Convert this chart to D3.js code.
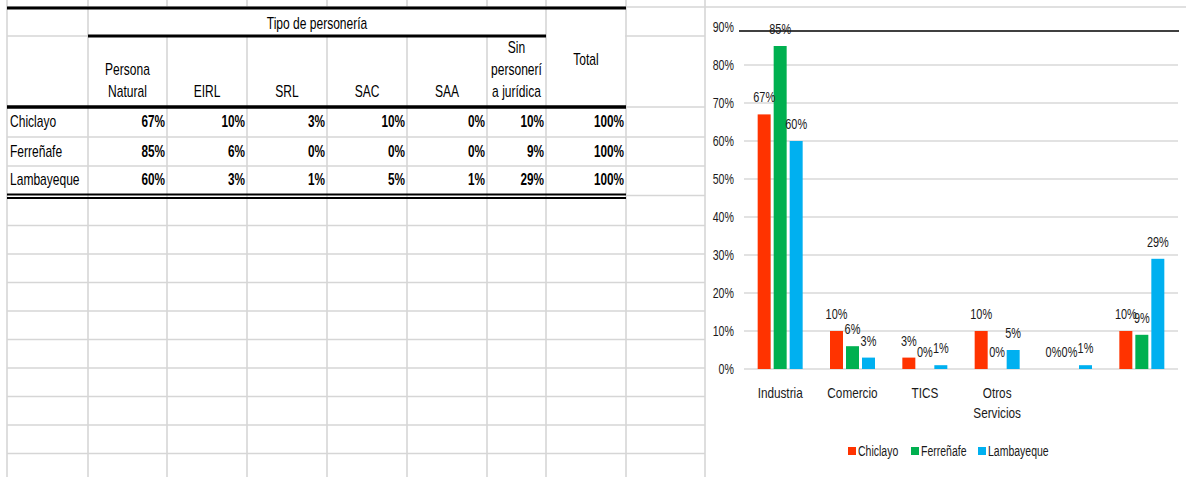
<!DOCTYPE html>
<html>
<head>
<meta charset="utf-8">
<script src="https://cdn.jsdelivr.net/npm/d3@7"></script>
<style>
  body { margin: 0; background: #fff; }
  svg text { font-family: "Liberation Sans", Arial, sans-serif; fill: #000; }
  .chart text { fill: #1a1a1a; }
</style>
</head>
<body>
<svg id="sheet" width="1186" height="477"></svg>
<script>
// ---- data ----
const groupTitle = "Tipo de personería";
const headerLines = [["Persona", "Natural"], ["EIRL"], ["SRL"], ["SAC"], ["SAA"], ["Sin", "personerí", "a jurídica"]];
const totalTitle = "Total";
const provinces = ["Chiclayo", "Ferreñafe", "Lambayeque"];
const chiclayo = [0.67, 0.10, 0.03, 0.10, 0.00, 0.10];
const ferrenafe = [0.85, 0.06, 0.00, 0.00, 0.00, 0.09];
const lambayeque = [0.60, 0.03, 0.01, 0.05, 0.01, 0.29];
const totals = [1, 1, 1];
const sectors = ["Industria", "Comercio", "TICS", "Otros Servicios", "", ""];
const yTicks = [0, 0.1, 0.2, 0.3, 0.4, 0.5, 0.6, 0.7, 0.8, 0.9];
const seriesColors = ["#FF3300", "#00B050", "#00B0F0"];

const seriesValues = [chiclayo, ferrenafe, lambayeque];
const pct = d3.format(".0%");
const svg = d3.select("#sheet");

// condensed text: place at (x, y) and squeeze horizontally
function label(parent, x, y, str, o = {}) {
  const sx = o.sx ?? 0.86, sy = o.sy ?? 1;
  return parent.append("text")
    .attr("transform", `translate(${x},${y}) scale(${sx},${sy})`)
    .attr("text-anchor", o.anchor || "start")
    .attr("font-size", o.size || 14)
    .attr("font-weight", o.weight || null)
    .text(str);
}

// ---- spreadsheet grid ----
const colWidths = [81, 79, 80, 80, 80, 80, 59, 80, 79];
const colEdges = [7, ...d3.cumsum(colWidths).map(v => v + 7)];
const tableTop = 8, headSplit = 36, headBottom = 107;
const rowEdges = [107, 137, 166, 194];
const blankTop = 197, blankStep = 28.5;
const blankRows = d3.range(1, 10).map(i => blankTop + i * blankStep);
const grid = "#d6d6d6";
const tableRight = colEdges[8], sheetRight = colEdges[9];

const g = svg.append("g");
// vertical light cell borders
g.selectAll("line.v").data(colEdges).join("line")
  .attr("x1", d => d).attr("x2", d => d).attr("y1", 0).attr("y2", 477)
  .attr("stroke", grid).attr("stroke-width", 1.6);
// horizontal light cell borders
const hLines = [
  { y: 7, x1: 7, x2: 1186 },
  { y: headSplit, x1: 7, x2: sheetRight },
  ...rowEdges.slice(0, 3).map(y => ({ y, x1: 7, x2: sheetRight })),
  { y: 195.5, x1: tableRight, x2: sheetRight },
  ...blankRows.map(y => ({ y, x1: 7, x2: sheetRight }))
];
g.selectAll("line.h").data(hLines).join("line")
  .attr("x1", d => d.x1).attr("x2", d => d.x2).attr("y1", d => d.y).attr("y2", d => d.y)
  .attr("stroke", grid).attr("stroke-width", 1.6);

// white-out merged header cells
g.append("rect").attr("x", colEdges[1] + 1).attr("y", tableTop + 1)
  .attr("width", colEdges[7] - colEdges[1] - 2).attr("height", headSplit - tableTop - 2).attr("fill", "#fff");
g.append("rect").attr("x", colEdges[7] + 1).attr("y", tableTop + 1)
  .attr("width", colEdges[8] - colEdges[7] - 2).attr("height", headBottom - tableTop - 2).attr("fill", "#fff");

// heavy rules
const heavy = [
  { x1: 7, x2: tableRight, y: tableTop, w: 3 },
  { x1: colEdges[1], x2: colEdges[7], y: headSplit, w: 3 },
  { x1: 7, x2: tableRight, y: headBottom, w: 3.5 },
  { x1: 7, x2: tableRight, y: 194.5, w: 2 },
  { x1: 7, x2: tableRight, y: 198, w: 2 }
];
g.selectAll("line.k").data(heavy).join("line")
  .attr("x1", d => d.x1).attr("x2", d => d.x2).attr("y1", d => d.y).attr("y2", d => d.y)
  .attr("stroke", "#000").attr("stroke-width", d => d.w);

// ---- table text ----
const t = svg.append("g");
const tOpt = { sx: 0.86, sy: 1.15, size: 14 };
label(t, (colEdges[1] + colEdges[7]) / 2, 29, groupTitle, { ...tOpt, anchor: "middle" });
label(t, (colEdges[7] + colEdges[8]) / 2, 65, totalTitle, { ...tOpt, anchor: "middle" });
headerLines.forEach((lines, i) => {
  const cx = (colEdges[i + 1] + colEdges[i + 2]) / 2;
  lines.forEach((ln, j) => {
    label(t, cx, 97 - (lines.length - 1 - j) * 22, ln, { ...tOpt, anchor: "middle" });
  });
});
provinces.forEach((p, r) => {
  const yb = (rowEdges[r] + rowEdges[r + 1]) / 2 + 5;
  label(t, 10, yb, p, tOpt);
  const vals = [...seriesValues[r], totals[r]];
  vals.forEach((v, c) => {
    label(t, colEdges[c + 2] - 2, yb, pct(v), { ...tOpt, anchor: "end", weight: "bold", sx: 0.84 });
  });
});

// ---- bar chart ----
const ch = svg.append("g").attr("class", "chart");
const plotL = 744, plotR = 1178;
const y = d3.scaleLinear().domain([0, 0.9]).range([369, 27]);
const x0 = d3.scaleBand().domain(d3.range(sectors.length)).range([plotL, plotR])
  .paddingInner(0.378).paddingOuter(0.189);
const x1 = d3.scaleBand().domain(d3.range(provinces.length)).range([0, x0.bandwidth()])
  .paddingInner(0.1875);

// gridlines (0%..80%)
ch.selectAll("line.grid").data(yTicks.slice(0, -1)).join("line")
  .attr("x1", plotL).attr("x2", plotR).attr("y1", d => y(d)).attr("y2", d => y(d))
  .attr("stroke", "#d9d9d9").attr("stroke-width", 1.5);

// y axis labels
const yAxis = d3.axisLeft(y).tickValues(yTicks).tickFormat(pct).tickSize(0).tickPadding(0);
const ya = ch.append("g").attr("transform", "translate(734,0)").call(yAxis);
ya.select(".domain").remove();
ya.selectAll("text")
  .attr("font-size", 14).attr("fill", "#1a1a1a")
  .attr("font-family", "Liberation Sans, Arial, sans-serif")
  .attr("transform", "scale(0.76,1.05)");

// top rule just under the 90% tick
ch.append("line").attr("x1", 739).attr("x2", 1179)
  .attr("y1", y(0.9) + 4).attr("y2", y(0.9) + 4).attr("stroke", "#000").attr("stroke-width", 1.3);

// bars with value labels
const groups = ch.selectAll("g.grp").data(sectors).join("g")
  .attr("transform", (d, i) => `translate(${x0(i)},0)`);
groups.each(function (_, i) {
  const gg = d3.select(this);
  const cells = provinces.map((p, s) => ({ s, v: seriesValues[s][i] }));
  gg.selectAll("rect").data(cells).join("rect")
    .attr("x", d => x1(d.s)).attr("width", x1.bandwidth())
    .attr("y", d => y(d.v)).attr("height", d => y(0) - y(d.v))
    .attr("fill", d => seriesColors[d.s]);
  cells.forEach(d => {
    label(gg, x1(d.s) + x1.bandwidth() / 2, y(d.v) - 12, pct(d.v),
      { anchor: "middle", size: 14, sx: 0.78, sy: 1.08 });
  });
});

// category labels
const xa = ch.append("g");
sectors.forEach((s, i) => {
  const cx = x0(i) + x0.bandwidth() / 2;
  s.split(" ").filter(Boolean).forEach((w, j) => {
    label(xa, cx, 398 + j * 20, w, { anchor: "middle", size: 14, sx: 0.84, sy: 1.08 });
  });
});

// legend
const legendX = [848, 911, 978];
const lg = ch.append("g");
provinces.forEach((p, s) => {
  lg.append("rect").attr("x", legendX[s]).attr("y", 447).attr("width", 8).attr("height", 8)
    .attr("fill", seriesColors[s]);
  label(lg, legendX[s] + 10, 456, p, { size: 14, sx: 0.75, sy: 1.05 });
});
</script>
</body>
</html>
